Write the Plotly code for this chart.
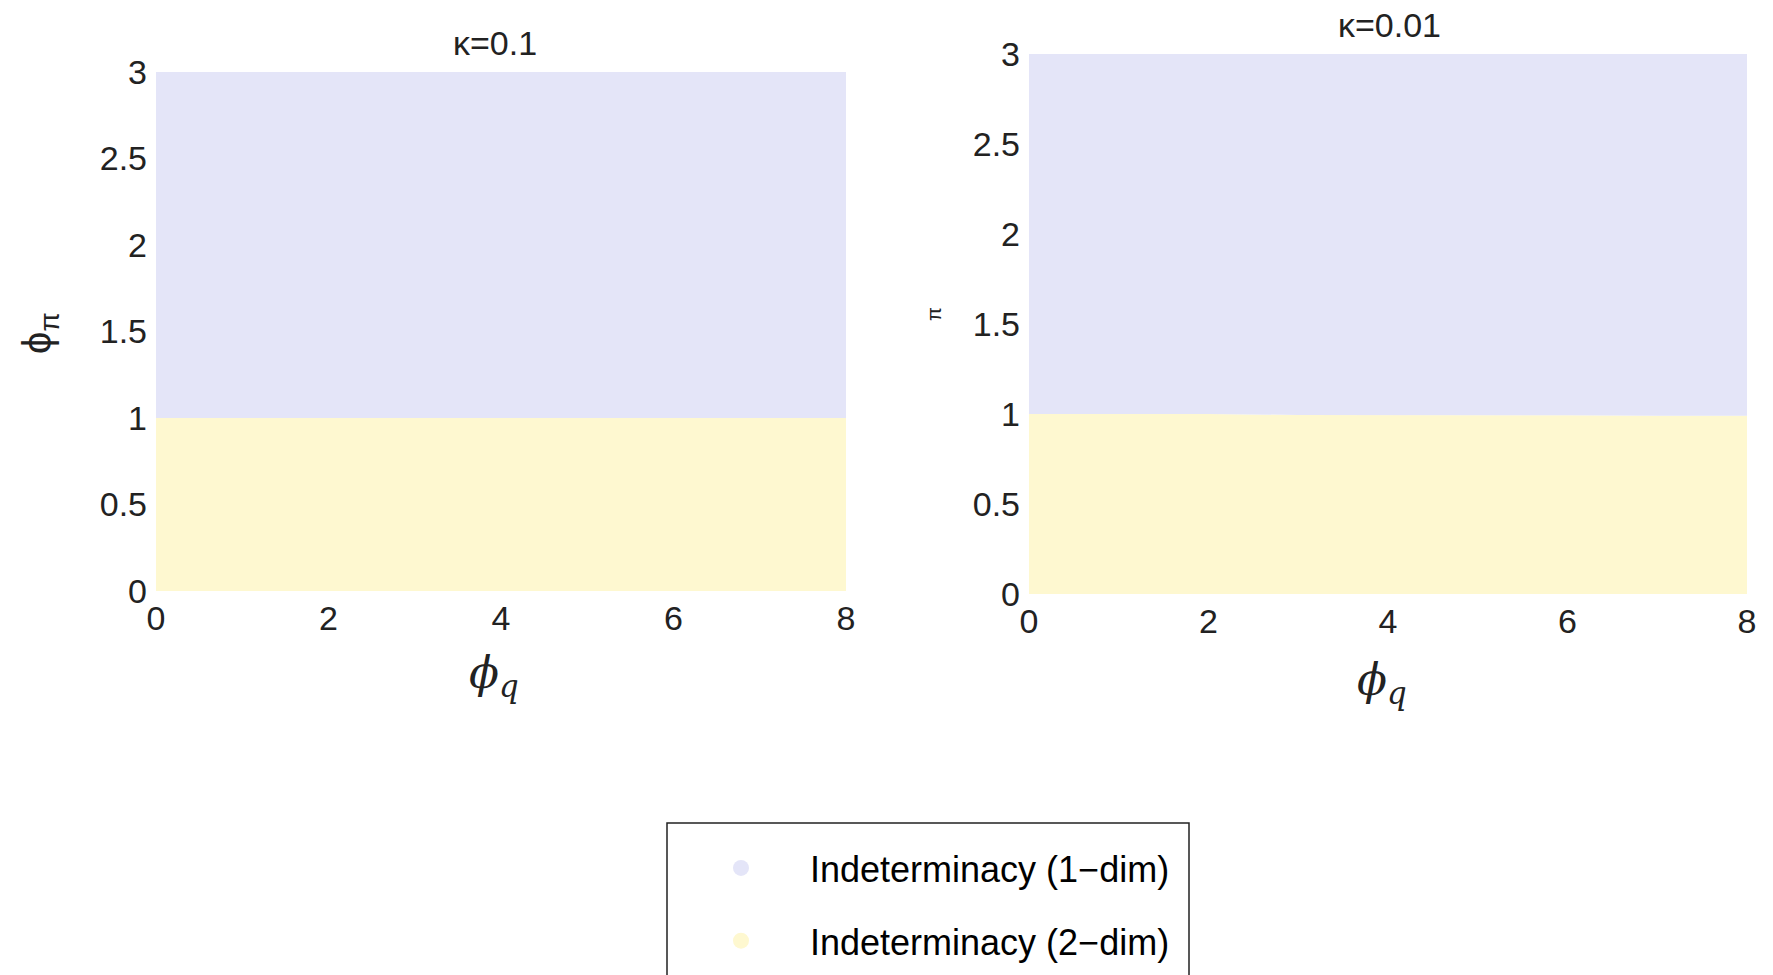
import plotly.graph_objects as go

# ---------------- data ----------------
phi_q = [0, 1, 2, 3, 4, 5, 6, 7, 8]
# boundary between 2-dim (below) and 1-dim (above) indeterminacy, phi_pi
boundary_k01 = [1.0, 1.0, 1.0, 1.0, 1.0, 1.0, 1.0, 1.0, 1.0]
boundary_k001 = [1.0, 1.0, 1.0, 0.995, 0.995, 0.994, 0.993, 0.99, 0.99]
phi_pi_top = [3, 3, 3, 3, 3, 3, 3, 3, 3]
panel_titles = ["κ=0.1", "κ=0.01"]
series_names = ["Indeterminacy (1\u2212dim)", "Indeterminacy (2\u2212dim)"]
x_ticks = [0, 2, 4, 6, 8]
y_ticks = [0, 0.5, 1, 1.5, 2, 2.5, 3]
y_ticklabels = ["0", "0.5", "1", "1.5", "2", "2.5", "3"]

# ---------------- style ----------------
W, H = 1773, 975
COL_1DIM = "#E4E5F8"
COL_2DIM = "#FEF8D0"
SANS = "Liberation Sans, Arial, sans-serif"
SERIF = "DejaVu Serif, Liberation Serif, serif"
TXT = "#222222"


def px_x(p):
    return p / W


def px_y(p):
    return 1 - p / H


fig = go.Figure()

panels = [
    dict(xa="x", ya="y", bound=boundary_k01),
    dict(xa="x2", ya="y2", bound=boundary_k001),
]
for pnl in panels:
    fig.add_trace(go.Scatter(x=phi_q, y=pnl["bound"], xaxis=pnl["xa"], yaxis=pnl["ya"],
                             mode="lines", line=dict(width=0), fill="tozeroy",
                             fillcolor=COL_2DIM, showlegend=False, hoverinfo="skip"))
    fig.add_trace(go.Scatter(x=phi_q, y=phi_pi_top, xaxis=pnl["xa"], yaxis=pnl["ya"],
                             mode="lines", line=dict(width=0), fill="tonexty",
                             fillcolor=COL_1DIM, showlegend=False, hoverinfo="skip"))

# legend entries
for name, col, grp in zip(series_names, [COL_1DIM, COL_2DIM], ["a", "b"]):
    fig.add_trace(go.Scatter(x=[None], y=[None], mode="markers", name=name, legendgroup=grp,
                             marker=dict(symbol="circle", size=22, color=col)))

axis_common = dict(showgrid=False, zeroline=False, showline=False, ticks="",
                   automargin=False,
                   tickfont=dict(family=SANS, size=34, color=TXT), fixedrange=True)

fig.update_layout(
    width=W, height=H,
    margin=dict(l=0, r=0, t=0, b=0, autoexpand=False),
    paper_bgcolor="white", plot_bgcolor="white",
    xaxis=dict(domain=[px_x(156), px_x(846)], range=[0, 8], tickvals=x_ticks,
               anchor="y", ticklabelstandoff=4, **axis_common),
    yaxis=dict(domain=[px_y(591), px_y(72)], range=[0, 3], tickvals=y_ticks,
               ticktext=y_ticklabels, anchor="x", ticklabelstandoff=8, **axis_common),
    xaxis2=dict(domain=[px_x(1029), px_x(1747)], range=[0, 8], tickvals=x_ticks,
                anchor="y2", ticklabelstandoff=4, **axis_common),
    yaxis2=dict(domain=[px_y(594), px_y(54)], range=[0, 3], tickvals=y_ticks,
                ticktext=y_ticklabels, anchor="x2", ticklabelstandoff=8, **axis_common),
    showlegend=True,
    legend=dict(x=px_x(672), y=px_y(838), xanchor="left", yanchor="top",
                font=dict(family=SANS, size=36, color="black"),
                itemwidth=128, tracegroupgap=23, bgcolor="rgba(0,0,0,0)",
                borderwidth=0, traceorder="grouped"),
)

annots = [
    dict(x=px_x(495), y=px_y(43), text=panel_titles[0], font=dict(family=SANS, size=34, color=TXT)),
    dict(x=px_x(1389), y=px_y(25), text=panel_titles[1], font=dict(family=SANS, size=34, color=TXT)),
    dict(x=px_x(494), y=px_y(675), text="<i>\u03d5</i><sub><i>q</i></sub>",
         font=dict(family=SERIF, size=44, color=TXT)),
    dict(x=px_x(1382), y=px_y(682), text="<i>\u03d5</i><sub><i>q</i></sub>",
         font=dict(family=SERIF, size=44, color=TXT)),
    dict(x=px_x(40), y=px_y(333), text="\u03d5<sub>π</sub>", textangle=-90,
         font=dict(family=SANS, size=40, color=TXT)),
    dict(x=px_x(934), y=px_y(314), text="π", textangle=-90,
         font=dict(family=SANS, size=20, color=TXT)),
]
for a in annots:
    a.update(xref="paper", yref="paper", showarrow=False, xanchor="center", yanchor="middle")
fig.update_layout(annotations=annots)

# legend frame
fig.add_shape(type="rect", xref="paper", yref="paper",
              x0=px_x(667), x1=px_x(1189), y0=px_y(823), y1=-0.05,
              line=dict(color="#222222", width=1.5), fillcolor="rgba(0,0,0,0)", layer="above")

fig.write_html("out.html")
